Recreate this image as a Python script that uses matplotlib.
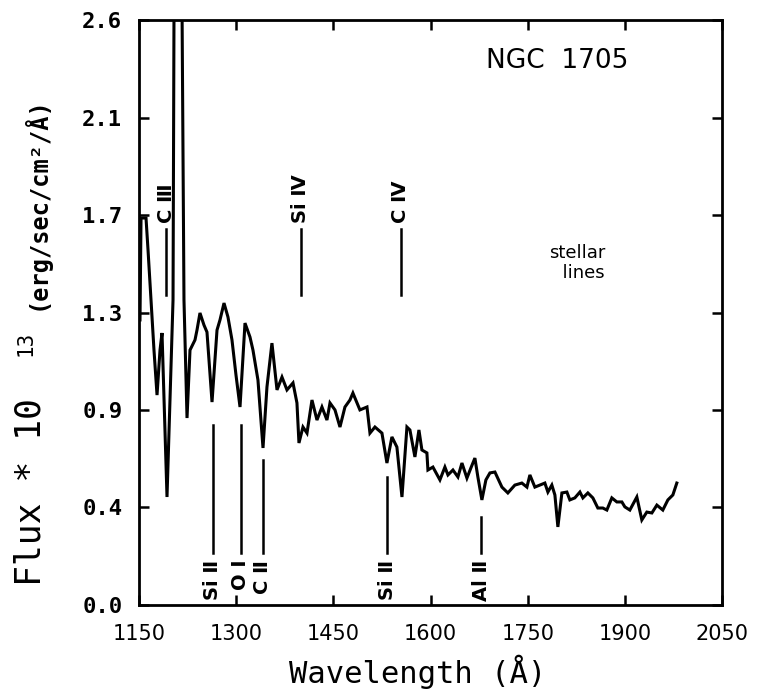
import matplotlib
matplotlib.use("Agg")
import matplotlib.pyplot as plt

# NGC 1705 UV spectrum, digitised wavelength (A) / flux (1e-13 erg/s/cm2/A)
wavelength = [1151.5, 1153.1, 1160.8, 1163.9, 1168.5, 1173.1, 1177.8, 1182.4, 1185.5,
              1193.2, 1197.8, 1202.5, 1205.6, 1213.3, 1219.4, 1224.1, 1228.7, 1236.4,
              1239.5, 1244.1, 1250.3, 1254.9, 1262.7, 1270.4, 1275.0, 1281.2, 1287.3,
              1293.5, 1299.7, 1305.9, 1313.6, 1321.3, 1325.9, 1333.6, 1341.4, 1347.5,
              1355.2, 1363.0, 1370.7, 1378.4, 1387.7, 1393.8, 1396.9, 1403.1, 1409.3,
              1417.0, 1424.7, 1432.4, 1440.1, 1444.8, 1452.5, 1460.2, 1467.9, 1475.6,
              1480.2, 1491.0, 1501.9, 1506.5, 1514.2, 1525.0, 1532.7, 1540.4, 1548.1,
              1555.9, 1563.6, 1568.2, 1575.9, 1582.1, 1586.7, 1594.4, 1596.0, 1603.7,
              1614.5, 1622.2, 1626.9, 1634.6, 1642.3, 1648.5, 1656.2, 1662.3, 1668.5,
              1673.1, 1679.3, 1685.5, 1691.7, 1699.4, 1710.2, 1719.4, 1730.2, 1741.0,
              1748.8, 1753.4, 1761.1, 1768.8, 1776.5, 1781.2, 1787.3, 1792.0, 1796.6,
              1802.8, 1810.5, 1815.1, 1822.8, 1830.6, 1835.2, 1842.9, 1850.6, 1858.3,
              1866.0, 1872.2, 1879.9, 1887.6, 1895.4, 1900.0, 1907.7, 1918.5, 1926.2,
              1933.9, 1941.7, 1949.4, 1958.6, 1966.4, 1974.1, 1980.2]
flux = [1.267, 1.72, 1.72, 1.578, 1.356, 1.133, 0.933, 1.133, 1.209,
        0.48, 0.911, 1.356, 4.0, 4.0, 1.356, 0.831, 1.133, 1.178,
        1.222, 1.298, 1.244, 1.213, 0.902, 1.222, 1.267, 1.342, 1.28,
        1.178, 1.022, 0.88, 1.253, 1.191, 1.133, 1.0, 0.698, 0.969,
        1.164, 0.956, 1.013, 0.956, 0.987, 0.898, 0.72, 0.791, 0.764,
        0.911, 0.822, 0.88, 0.822, 0.898, 0.867, 0.791, 0.88, 0.911,
        0.942, 0.867, 0.88, 0.764, 0.791, 0.764, 0.631, 0.747, 0.702,
        0.48, 0.791, 0.778, 0.658, 0.778, 0.689, 0.676, 0.6, 0.613,
        0.556, 0.613, 0.578, 0.6, 0.569, 0.631, 0.564, 0.609, 0.653,
        0.569, 0.467, 0.556, 0.587, 0.591, 0.524, 0.498, 0.533, 0.542,
        0.524, 0.578, 0.524, 0.533, 0.542, 0.502, 0.533, 0.489, 0.347,
        0.498, 0.502, 0.467, 0.476, 0.502, 0.476, 0.498, 0.476, 0.431,
        0.431, 0.422, 0.476, 0.458, 0.458, 0.436, 0.422, 0.48, 0.378,
        0.413, 0.409, 0.444, 0.422, 0.467, 0.489, 0.542]

# line identifications: name, wavelength, marker bottom/top in flux units
top_names = ["C Ⅲ", "Si Ⅳ", "C Ⅳ"]
top_wl = [1192, 1400, 1554]
top_lo = [1.38, 1.38, 1.38]
top_hi = [1.67, 1.67, 1.67]

bot_names = ["Si Ⅱ", "O Ⅰ", "C Ⅱ", "Si Ⅱ", "Al Ⅱ"]
bot_wl = [1264, 1307, 1341, 1533, 1678]
bot_lo = [0.231, 0.231, 0.231, 0.231, 0.231]
bot_hi = [0.80, 0.80, 0.644, 0.569, 0.391]

x_ticks = [1150, 1300, 1450, 1600, 1750, 1900, 2050]
y_ticks = [0.0, 2.6 / 6, 2 * 2.6 / 6, 1.3, 4 * 2.6 / 6, 5 * 2.6 / 6, 2.6]
y_labels = ["0.0", "0.4", "0.9", "1.3", "1.7", "2.1", "2.6"]

fig = plt.figure(figsize=(7.63, 6.93), dpi=100)
ax = fig.add_axes([0.1822, 0.1270, 0.7641, 0.8441])

ax.plot(wavelength, flux, color="black", lw=2.2, solid_joinstyle="miter")

for wl, lo, hi, name in zip(top_wl, top_lo, top_hi, top_names):
    ax.plot([wl, wl], [lo, hi], color="black", lw=1.8)
    ax.text(wl, hi + 0.03, name, rotation=90, ha="center", va="bottom",
            fontsize=14, fontweight="bold")

for wl, lo, hi, name in zip(bot_wl, bot_lo, bot_hi, bot_names):
    ax.plot([wl, wl], [lo, hi], color="black", lw=1.8)
    ax.text(wl, lo - 0.03, name, rotation=90, ha="center", va="top",
            fontsize=14, fontweight="bold")

ax.text(1795, 2.42, "NGC  1705", ha="center", va="center", fontsize=19)
ax.text(1827, 1.52, "stellar\n  lines", ha="center", va="center", fontsize=13,
        linespacing=1.1)

ax.set_xlim(1150, 2050)
ax.set_ylim(0, 2.6)
ax.set_xticks(x_ticks)
ax.set_yticks(y_ticks)
ax.set_yticklabels(y_labels, family="DejaVu Sans Mono", fontweight="bold", fontsize=16)
ax.tick_params(axis="x", labelsize=15, pad=14)
ax.tick_params(axis="y", pad=12)
ax.tick_params(direction="in", length=7, width=1.8, top=True, right=True)
for sp in ax.spines.values():
    sp.set_linewidth(2.0)

fig.text(418 / 763, 1 - 672 / 693, "Wavelength (Å)", ha="center", va="center",
         family="DejaVu Sans Mono", fontsize=22)

# y label built from pieces so the units can be set smaller
fig.text(31 / 763, 1 - 492 / 693, "Flux * 10", rotation=90, ha="center", va="center",
         family="DejaVu Sans Mono", fontsize=25)
fig.text(25 / 763, 1 - 343 / 693, "13", rotation=90, ha="center", va="center",
         family="DejaVu Sans Mono", fontsize=15)
fig.text(36 / 763, 1 - 203 / 693, "(erg/sec/cm²/Å)", rotation=90, ha="center", va="center",
         family="DejaVu Sans Mono", fontweight="bold", fontsize=17)

fig.savefig("out.png", dpi=100)
